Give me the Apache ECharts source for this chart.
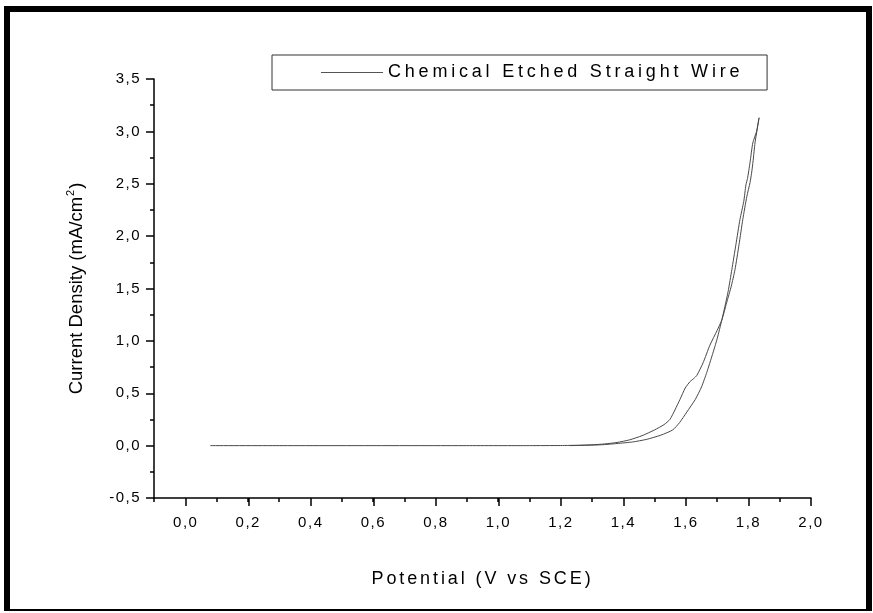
<!DOCTYPE html>
<html>
<head>
<meta charset="utf-8">
<script src="https://cdn.jsdelivr.net/npm/echarts@6/dist/echarts.min.js"></script>
<style>
  html, body { margin: 0; padding: 0; background: #fff; }
  #chart { width: 873px; height: 613px; }
</style>
</head>
<body>
<div id="chart"></div>
<script>
// Anodic sweep (V vs SCE) and current density (mA/cm2)
const forwardPotential = [0.08, 0.3, 0.6, 0.9, 1.1, 1.2, 1.26, 1.3, 1.34, 1.38, 1.42, 1.46, 1.5, 1.53, 1.549, 1.565, 1.581, 1.598, 1.613, 1.625, 1.635, 1.655, 1.677, 1.7, 1.715, 1.73, 1.745, 1.757, 1.77, 1.782, 1.795, 1.805, 1.81, 1.815, 1.821, 1.828, 1.834];
const forwardCurrent = [0, 0, 0, 0, 0, 0.001, 0.004, 0.008, 0.016, 0.03, 0.055, 0.095, 0.15, 0.2, 0.25, 0.34, 0.44, 0.55, 0.61, 0.64, 0.67, 0.79, 0.96, 1.1, 1.2, 1.36, 1.52, 1.68, 1.92, 2.16, 2.38, 2.51, 2.6, 2.72, 2.89, 3.02, 3.13];

// Return sweep
const reversePotential = [1.834, 1.826, 1.814, 1.805, 1.797, 1.792, 1.785, 1.773, 1.76, 1.747, 1.735, 1.725, 1.715, 1.7, 1.685, 1.667, 1.65, 1.63, 1.603, 1.58, 1.558, 1.52, 1.475, 1.43, 1.38, 1.33, 1.28, 1.23];
const reverseCurrent = [3.13, 3.0, 2.89, 2.7, 2.55, 2.49, 2.33, 2.16, 1.92, 1.68, 1.47, 1.33, 1.2, 1.02, 0.87, 0.70, 0.56, 0.44, 0.32, 0.22, 0.15, 0.1, 0.06, 0.035, 0.02, 0.008, 0.003, 0];

const seriesName = 'Chemical Etched Straight Wire';
const xTitle = 'Potential (V vs SCE)';
const yTitle = 'Current Density (mA/cm';

// Tracking (letter spacing) for the different text roles
const trackingByText = {};
trackingByText[seriesName] = '3.8px';
trackingByText[xTitle] = '2.9px';
const tickTracking = '1.5px';

(function () {
  const proto = CanvasRenderingContext2D.prototype;
  const origFill = proto.fillText;
  proto.fillText = function (text, x, y, maxWidth) {
    const s = String(text);
    const prev = this.letterSpacing;
    let sp = trackingByText[s];
    if (!sp && /^-?\d,\d$/.test(s)) sp = tickTracking;
    if ('letterSpacing' in this) this.letterSpacing = sp || '0px';
    const r = maxWidth === undefined ? origFill.call(this, text, x, y) : origFill.call(this, text, x, y, maxWidth);
    if ('letterSpacing' in this) this.letterSpacing = prev;
    return r;
  };
})();

const loop = forwardPotential.map((v, i) => [v, forwardCurrent[i]])
  .concat(reversePotential.map((v, i) => [v, reverseCurrent[i]]));

const FONT = 'Liberation Sans, Arial, sans-serif';
const comma = (v) => v.toFixed(1).replace('.', ',');

const chart = echarts.init(document.getElementById('chart'), null, { renderer: 'canvas' });

chart.setOption({
  animation: false,
  backgroundColor: '#fff',
  grid: [
    { left: 154, top: 79, right: 62, bottom: 115 },
    { left: 185.75, top: 79, right: 62, bottom: 115 }
  ],
  legend: {
    data: [seriesName],
    selectedMode: false,
    left: 272,
    top: 55,
    orient: 'horizontal',
    padding: [8.5, 134, 8.5, 49],
    borderColor: '#333',
    borderWidth: 1,
    icon: 'rect',
    itemWidth: 62,
    itemHeight: 1,
    itemStyle: { color: '#555' },
    textStyle: { fontFamily: FONT, fontSize: 18, color: '#000', lineHeight: 18 }
  },
  xAxis: [
    {
      type: 'value',
      gridIndex: 0,
      min: -0.1,
      max: 2.0,
      interval: 0.1,
      axisLine: { show: true, onZero: false, lineStyle: { color: '#000', width: 1.5 } },
      axisTick: { show: true, inside: false, length: 4, lineStyle: { color: '#000', width: 1.5 } },
      axisLabel: { show: false },
      splitLine: { show: false },
      name: xTitle,
      nameLocation: 'middle',
      nameGap: 72,
      nameTextStyle: { fontFamily: FONT, fontSize: 18, color: '#000' }
    },
    {
      type: 'value',
      gridIndex: 1,
      min: 0,
      max: 2.0,
      interval: 0.2,
      axisLine: { show: false, onZero: false },
      axisTick: { show: true, inside: false, length: 8, lineStyle: { color: '#000', width: 1.5 } },
      axisLabel: { show: true, margin: 17, fontFamily: FONT, fontSize: 15, color: '#000', formatter: comma },
      splitLine: { show: false }
    }
  ],
  yAxis: [
    {
      type: 'value',
      gridIndex: 0,
      min: -0.5,
      max: 3.5,
      interval: 0.5,
      axisLine: { show: true, onZero: false, lineStyle: { color: '#000', width: 1.5 } },
      axisTick: { show: true, inside: false, length: 8, lineStyle: { color: '#000', width: 1.5 } },
      minorTick: { show: true, splitNumber: 2, length: 4, lineStyle: { color: '#000', width: 1.5 } },
      axisLabel: { margin: 13, fontFamily: FONT, fontSize: 15, color: '#000', formatter: comma },
      splitLine: { show: false },
      name: '{a|' + yTitle + '}{sup|2}{a|)}',
      nameLocation: 'middle',
      nameGap: 66,
      nameTextStyle: {
        color: '#000',
        rich: {
          a: { fontFamily: FONT, fontSize: 18.5, color: '#000' },
          sup: { fontFamily: FONT, fontSize: 11, color: '#000', padding: [0, 1, 12, 1] }
        }
      }
    },
    {
      type: 'value',
      gridIndex: 1,
      min: -0.5,
      max: 3.5,
      show: false
    }
  ],
  series: [
    {
      name: seriesName,
      type: 'line',
      xAxisIndex: 0,
      yAxisIndex: 0,
      data: loop,
      symbol: 'none',
      showSymbol: false,
      smooth: 0.2,
      lineStyle: { color: '#484848', width: 1 },
      itemStyle: { color: '#484848' }
    }
  ],
  graphic: [
    { type: 'rect', shape: { x: 4, y: 6, width: 868, height: 6 }, style: { fill: '#000' }, silent: true },
    { type: 'rect', shape: { x: 4, y: 6, width: 6, height: 605 }, style: { fill: '#000' }, silent: true },
    { type: 'rect', shape: { x: 866, y: 6, width: 6, height: 605 }, style: { fill: '#000' }, silent: true },
    { type: 'rect', shape: { x: 4, y: 609, width: 868, height: 2 }, style: { fill: '#000' }, silent: true }
  ]
});
</script>
</body>
</html>
